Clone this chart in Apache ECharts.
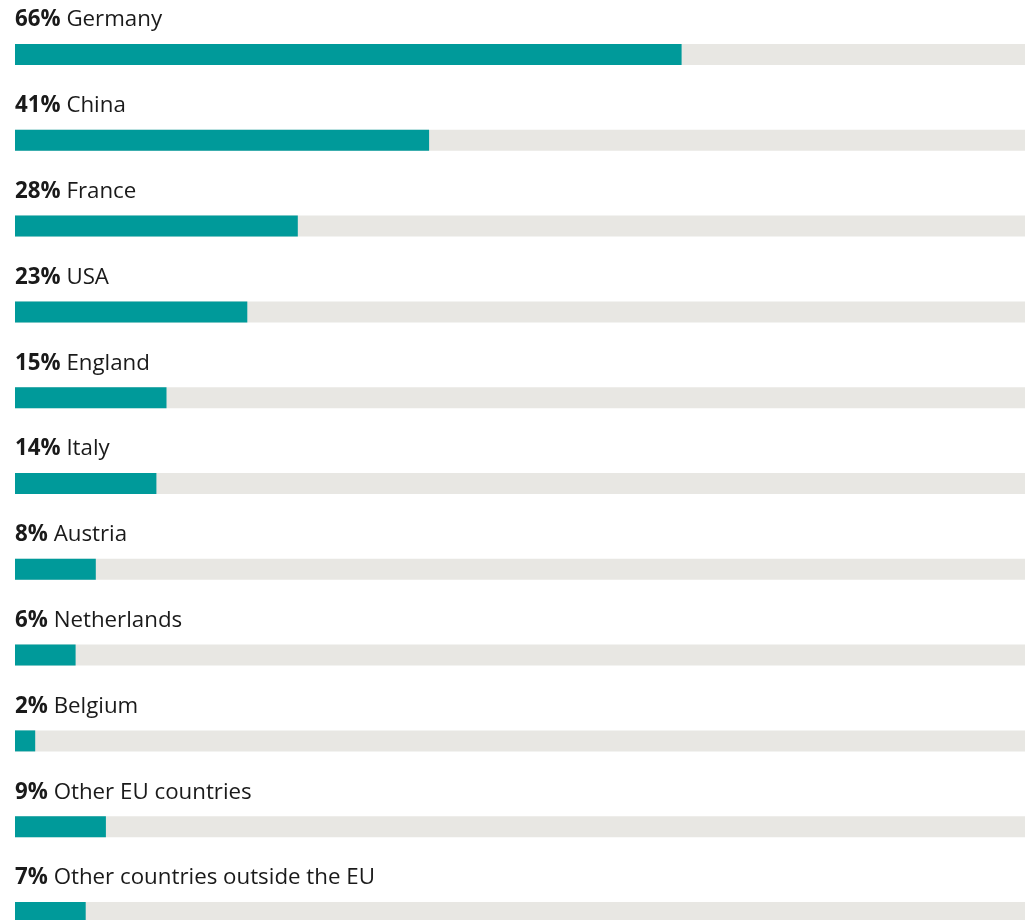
<!DOCTYPE html>
<html>
<head>
<meta charset="utf-8">
<script src="https://cdn.jsdelivr.net/npm/echarts@6/dist/echarts.min.js"></script>
<style>
  html, body { margin: 0; padding: 0; background: #fff; overflow: hidden; }
  #chart { width: 1033px; height: 960px; }
</style>
</head>
<body>
<div id="chart"></div>
<script>
// Share of respondents by country
const countries = ['Germany', 'China', 'France', 'USA', 'England', 'Italy', 'Austria',
  'Netherlands', 'Belgium', 'Other EU countries', 'Other countries outside the EU'];
const shares = [66, 41, 28, 23, 15, 14, 8, 6, 2, 9, 7];

const chart = echarts.init(document.getElementById('chart'), null, { renderer: 'canvas' });

chart.setOption({
  animation: false,
  grid: { left: 15, right: 8, top: 11.6, height: 943.8, containLabel: false },
  xAxis: {
    type: 'value', min: 0, max: 100, show: false
  },
  yAxis: {
    type: 'category', data: countries, inverse: true, show: false
  },
  series: [{
    type: 'bar',
    data: shares,
    barWidth: 21,
    itemStyle: { color: '#009a9a' },
    showBackground: true,
    backgroundStyle: { color: '#e8e7e3' },
    label: {
      show: true,
      position: [0, -24],
      align: 'left',
      verticalAlign: 'middle',
      fontFamily: 'Open Sans',
      fontSize: 22.3,
      color: '#1a1a1a',
      formatter: p => '{v|' + p.value + '%} ' + p.name,
      rich: {
        v: { fontWeight: 'bold', fontSize: 22.3, fontFamily: 'Open Sans', color: '#1a1a1a' }
      }
    }
  }]
});
</script>
</body>
</html>
